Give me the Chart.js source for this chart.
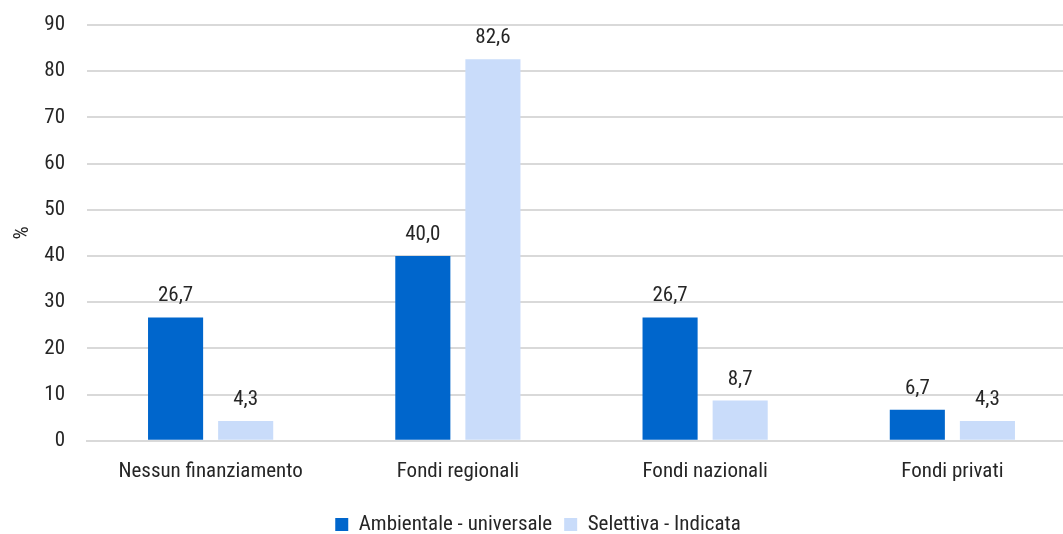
<!DOCTYPE html>
<html>
<head>
<meta charset="utf-8">
<script src="https://cdn.jsdelivr.net/npm/chart.js@4/dist/chart.umd.min.js"></script>
<style>
  html, body { margin: 0; padding: 0; background: #fff; overflow: hidden; }
  #wrap { width: 1076px; height: 534px; position: relative; }
</style>
</head>
<body>
<div id="wrap"><canvas id="c" width="1076" height="534"></canvas></div>
<script>
const categories = ["Nessun finanziamento", "Fondi regionali", "Fondi nazionali", "Fondi privati"];
const seriesNames = ["Ambientale - universale", "Selettiva - Indicata"];
const ambientale = [26.7, 40.0, 26.7, 6.7];
const selettiva = [4.3, 82.6, 8.7, 4.3];
const yTicks = [0, 10, 20, 30, 40, 50, 60, 70, 80, 90];

const FONT = "'Liberation Sans Narrow', 'Roboto Condensed', 'DejaVu Sans Condensed', 'Liberation Sans', sans-serif";
const TXT = '#262626';
const FS = 21;

const labelPlugin = {
  id: 'valueLabels',
  afterDatasetsDraw(chart) {
    const ctx = chart.ctx;
    ctx.save();
    ctx.font = FS + 'px ' + FONT;
    ctx.fillStyle = TXT;
    ctx.textAlign = 'center';
    ctx.textBaseline = 'alphabetic';
    chart.data.datasets.forEach((ds, i) => {
      const meta = chart.getDatasetMeta(i);
      meta.data.forEach((bar, j) => {
        const v = ds.data[j];
        ctx.fillText(v.toFixed(1).replace('.', ','), bar.x, bar.y - 16);
      });
    });
    ctx.restore();
  }
};

new Chart(document.getElementById('c'), {
  type: 'bar',
  data: {
    labels: categories,
    datasets: [
      { label: seriesNames[0], data: ambientale, backgroundColor: '#0066CC' },
      { label: seriesNames[1], data: selettiva, backgroundColor: '#C9DCFA' }
    ]
  },
  options: {
    responsive: false,
    animation: false,
    categoryPercentage: 0.567,
    barPercentage: 0.786,
    layout: { padding: { top: 25, right: 0, bottom: -11, left: 0 } },
    plugins: {
      legend: {
        position: 'bottom',
        labels: {
          font: { family: FONT, size: FS },
          color: TXT,
          boxWidth: 13,
          boxHeight: 13,
          padding: 12
        }
      },
      tooltip: { enabled: false }
    },
    scales: {
      x: {
        grid: { display: false, drawTicks: false },
        border: { display: true, color: '#D9D9D9', width: 2 },
        ticks: { font: { family: FONT, size: FS }, color: TXT, padding: 18 }
      },
      y: {
        min: 0, max: 90,
        afterBuildTicks(scale) { scale.ticks = yTicks.map(v => ({ value: v })); },
        afterFit(scale) { scale.width = 87; scale.paddingTop = 0; scale.paddingBottom = 0; },
        grid: { color: '#D9D9D9', lineWidth: 2, drawTicks: false },
        border: { display: false },
        ticks: { font: { family: FONT, size: FS }, color: TXT, padding: 22 },
        title: { display: true, text: '%', font: { family: FONT, size: FS }, color: TXT, padding: { top: 10, bottom: 0 } }
      }
    }
  },
  plugins: [labelPlugin]
});
</script>
</body>
</html>
